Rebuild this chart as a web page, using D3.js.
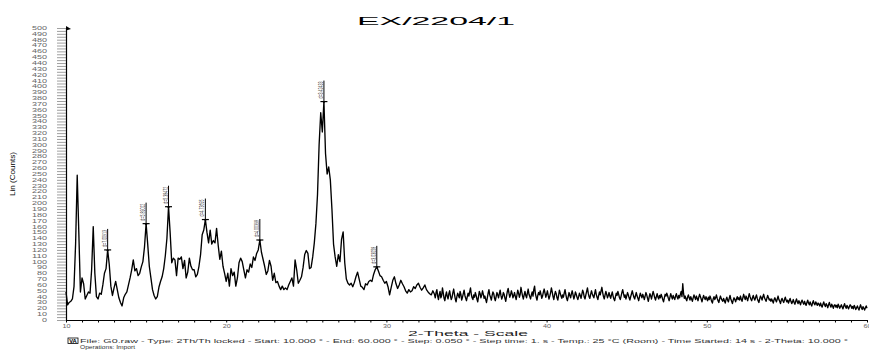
<!DOCTYPE html>
<html>
<head>
<meta charset="utf-8">
<script src="https://cdn.jsdelivr.net/npm/d3@7"></script>
<style>
  html, body { margin: 0; padding: 0; background: #fff; }
  svg { display: block; font-family: "Liberation Sans", Arial, sans-serif; }
</style>
</head>
<body>
<svg id="chart" width="869" height="352"></svg>
<script>
// chart texts
const chartTitle = "EX/2204/1";
const xTitle = "2-Theta - Scale";
const yTitle = "Lin (Counts)";
const footerLines = [
  "File: G0.raw - Type: 2Th/Th locked - Start: 10.000 ° - End: 60.000 ° - Step: 0.050 ° - Step time: 1. s - Temp.: 25 °C (Room) - Time Started: 14 s - 2-Theta: 10.000 °",
  "Operations: Import"
];

// scan, part 1: counts, every 0.1 degree from 10.0 to 32.9
const thetaStart = 10;
const thetaStep = 0.1;
const counts = [
  48, 26, 30, 32, 36, 57, 131, 248, 150, 48,      // 10
  72, 62, 36, 42, 48, 46, 86, 160, 80, 40,        // 11
  36, 46, 44, 60, 80, 88, 120, 95, 58, 42,        // 12
  55, 66, 52, 38, 30, 24, 38, 44, 48, 60,         // 13
  72, 86, 103, 84, 88, 76, 80, 91, 100, 125,      // 14
  165, 130, 92, 72, 52, 42, 36, 40, 56, 66,       // 15
  74, 88, 110, 140, 194, 150, 98, 106, 103, 76,   // 16
  106, 104, 108, 88, 102, 72, 82, 106, 92, 86,    // 17
  86, 74, 78, 92, 112, 146, 154, 172, 150, 132,   // 18
  154, 130, 136, 132, 157, 128, 104, 118, 92, 80, // 19
  66, 80, 58, 88, 76, 82, 58, 72, 98, 106,        // 20
  100, 86, 72, 86, 82, 96, 90, 108, 102, 114,     // 21
  120, 137, 116, 104, 92, 78, 84, 102, 92, 68,    // 22
  80, 64, 66, 58, 52, 58, 52, 55, 52, 60,         // 23
  66, 72, 58, 103, 86, 63, 68, 74, 90, 112,       // 24
  119, 114, 88, 90, 108, 132, 165, 215, 300, 355, // 25
  322, 374, 285, 250, 262, 240, 190, 130, 108, 92,// 26
  112, 100, 138, 151, 98, 70, 63, 60, 63, 57,     // 27
  64, 74, 82, 70, 58, 56, 52, 62, 60, 66,         // 28
  68, 66, 78, 86, 91, 84, 76, 74, 68, 63,         // 29
  66, 57, 43, 56, 68, 74, 62, 54, 60, 68,         // 30
  62, 57, 50, 46, 52, 48, 50, 57, 54, 60,         // 31
  63, 56, 51, 55, 60, 52, 48, 45, 43, 50          // 32
];

// scan, part 2: the noisy tail, every 0.05 degree from 33.00 to 60.00
const tailStart = 33;
const tailStep = 0.05;
const tailCounts = [
  44, 38, 47, 52, 41, 35, 44, 49, 38, 42, 55, 46, 37, 33, 42, 48, 40, 36, 45, 50, // 33
  41, 35, 39, 47, 53, 44, 36, 31, 40, 46, 42, 38, 49, 44, 34, 39, 45, 51, 42, 37, // 34
  33, 40, 46, 41, 48, 55, 44, 38, 35, 43, 39, 47, 42, 36, 31, 40, 49, 45, 38, 43, // 35
  50, 44, 37, 41, 35, 30, 38, 46, 52, 43, 39, 34, 42, 48, 45, 37, 33, 40, 47, 43, // 36
  38, 45, 51, 42, 36, 40, 47, 44, 37, 32, 41, 49, 54, 46, 39, 43, 50, 45, 38, 42, // 37
  47, 40, 35, 43, 51, 46, 39, 44, 56, 48, 41, 36, 43, 49, 42, 38, 46, 53, 44, 40, // 38
  36, 43, 48, 41, 52, 58, 45, 39, 34, 42, 47, 43, 50, 44, 37, 41, 48, 53, 46, 39, // 39
  44, 50, 42, 36, 41, 47, 55, 48, 40, 35, 43, 49, 45, 38, 34, 42, 51, 46, 41, 37, // 40
  43, 39, 46, 52, 44, 37, 33, 40, 47, 42, 38, 45, 50, 43, 36, 41, 48, 44, 39, 35, // 41
  40, 46, 42, 37, 44, 51, 47, 39, 36, 43, 49, 55, 46, 40, 37, 44, 50, 45, 41, 38, // 42
  45, 52, 44, 39, 35, 42, 48, 43, 50, 56, 47, 40, 36, 43, 49, 44, 38, 42, 47, 41, // 43
  37, 43, 48, 41, 36, 33, 40, 46, 42, 49, 44, 38, 35, 41, 47, 52, 45, 39, 43, 36, // 44
  41, 47, 43, 38, 34, 40, 45, 50, 44, 39, 36, 42, 47, 41, 37, 33, 40, 46, 42, 38, // 45
  44, 40, 35, 41, 47, 43, 37, 32, 39, 45, 41, 36, 43, 49, 44, 38, 34, 40, 45, 39, // 46
  36, 42, 38, 44, 40, 35, 31, 38, 44, 41, 46, 42, 37, 33, 39, 45, 40, 36, 42, 38, // 47
  35, 41, 45, 39, 36, 42, 38, 44, 49, 40, 62, 45, 37, 41, 36, 33, 39, 43, 38, 34, // 48
  40, 36, 32, 38, 43, 39, 35, 41, 37, 33, 39, 44, 40, 36, 31, 37, 42, 38, 35, 40, // 49
  36, 33, 39, 35, 41, 37, 32, 29, 36, 40, 35, 38, 43, 37, 33, 30, 36, 41, 37, 34, // 50
  32, 37, 33, 29, 35, 39, 34, 31, 37, 42, 36, 32, 28, 34, 38, 35, 31, 36, 40, 35, // 51
  38, 34, 41, 36, 32, 38, 44, 39, 35, 41, 37, 33, 39, 45, 40, 36, 33, 38, 42, 37, // 52
  34, 39, 43, 37, 33, 30, 36, 41, 38, 34, 40, 44, 38, 35, 32, 37, 42, 38, 34, 36, // 53
  32, 36, 33, 29, 35, 38, 34, 31, 36, 41, 35, 32, 28, 34, 37, 33, 30, 35, 39, 34, // 54
  31, 34, 29, 33, 37, 32, 28, 31, 35, 30, 27, 32, 36, 31, 28, 33, 30, 26, 31, 34, // 55
  30, 27, 32, 28, 25, 30, 34, 29, 26, 31, 27, 24, 29, 33, 28, 26, 31, 28, 25, 29, // 56
  27, 24, 29, 25, 22, 27, 31, 26, 23, 28, 25, 21, 26, 30, 25, 22, 27, 24, 20, 25, // 57
  26, 22, 25, 21, 27, 24, 20, 23, 26, 22, 19, 24, 28, 23, 20, 25, 22, 19, 23, 26, // 58
  24, 20, 23, 19, 25, 22, 18, 21, 24, 20, 17, 22, 26, 21, 18, 23, 20, 17, 21, 24, // 59
  20                                                                              // 60
];

// peak markers (d-spacing labels)
const peakTheta = [12.6, 15.0, 16.4, 18.7, 22.1, 26.1, 29.4];
const peakCounts = [120, 165, 194, 172, 137, 374, 91];
const peakLabels = ["d=7.00913", "d=5.89012", "d=5.38472", "d=4.73695", "d=4.00398", "d=3.42433", "d=3.03058"];

// axis ticks
const xTicks = d3.range(10, 61, 1);
const xTickLabels = [10, 20, 30, 40, 50, 60];
const yTicks = d3.range(0, 501, 5);

const x = d3.scaleLinear().domain([10, 60]).range([66, 867]);
const y = d3.scaleLinear().domain([0, 500]).range([320, 28]);

const svg = d3.select("#chart");

const points = counts.map((c, i) => ({ t: thetaStart + i * thetaStep, c }))
  .concat(tailCounts.map((c, i) => ({ t: tailStart + i * tailStep, c })));

// title
svg.append("text")
  .attr("x", 357).attr("y", 25)
  .attr("font-size", 11)
  .attr("textLength", 158).attr("lengthAdjust", "spacingAndGlyphs")
  .text(chartTitle);

// y axis
const yAxis = d3.axisLeft(y)
  .tickValues(yTicks)
  .tickSize(9).tickSizeOuter(0).tickPadding(10)
  .tickFormat(d => d % 10 === 0 ? d : "");

const gy = svg.append("g").attr("transform", "translate(66,0)").call(yAxis)
  .attr("font-family", null).attr("font-size", null);
gy.select(".domain").attr("stroke", "#000").attr("stroke-width", 1.2);
gy.selectAll(".tick line").attr("stroke", "#777").attr("stroke-width", 0.7);
gy.selectAll(".tick text")
  .attr("font-size", 4.5).attr("fill", "#666")
  .filter(d => d % 10 === 0)
  .attr("textLength", d => String(d).length * 5)
  .attr("lengthAdjust", "spacingAndGlyphs");

// small arrow at the top of the y axis
svg.append("path")
  .attr("d", `M66,${y(500) - 2} L71,${y(500) + 1} L66,${y(500) + 2.5} Z`)
  .attr("fill", "#000");

// x axis
const xAxis = d3.axisBottom(x)
  .tickValues(xTicks)
  .tickSize(2.5).tickSizeOuter(0).tickPadding(2)
  .tickFormat(d => xTickLabels.includes(d) ? d : "");

const gx = svg.append("g").attr("transform", "translate(0,320)").call(xAxis)
  .attr("font-family", null).attr("font-size", null);
gx.select(".domain").attr("stroke", "#000").attr("stroke-width", 1.2);
gx.selectAll(".tick line").attr("stroke", "#000").attr("stroke-width", 1);
gx.selectAll(".tick text")
  .attr("font-size", 4.5).attr("fill", "#666")
  .filter(d => xTickLabels.includes(d))
  .attr("textLength", d => String(d).length * 4)
  .attr("lengthAdjust", "spacingAndGlyphs");

// axis titles
svg.append("text")
  .attr("transform", "translate(15,174) rotate(-90)")
  .attr("text-anchor", "middle")
  .attr("font-size", 7)
  .attr("textLength", 44).attr("lengthAdjust", "spacingAndGlyphs")
  .text(yTitle);

svg.append("text")
  .attr("x", 408).attr("y", 336)
  .attr("font-size", 7).attr("fill", "#222")
  .attr("textLength", 120).attr("lengthAdjust", "spacingAndGlyphs")
  .text(xTitle);

// the scan line
const line = d3.line()
  .x(d => x(d.t))
  .y(d => y(d.c));

svg.append("path")
  .datum(points)
  .attr("d", line)
  .attr("fill", "none")
  .attr("stroke", "#000")
  .attr("stroke-width", 1.35)
  .attr("stroke-linejoin", "round");

// peak markers
const peaks = peakTheta.map((t, i) => ({ t, c: peakCounts[i], label: peakLabels[i] }));
const pg = svg.selectAll("g.peak").data(peaks).join("g").attr("class", "peak");

pg.append("line")
  .attr("x1", d => x(d.t)).attr("x2", d => x(d.t))
  .attr("y1", d => y(d.c) - 21).attr("y2", d => y(d.c))
  .attr("stroke", "#000").attr("stroke-width", 1);

pg.append("line")
  .attr("x1", d => x(d.t) - 3.5).attr("x2", d => x(d.t) + 3.5)
  .attr("y1", d => y(d.c)).attr("y2", d => y(d.c))
  .attr("stroke", "#000").attr("stroke-width", 1.2);

pg.append("path")
  .attr("d", d => `M${x(d.t) - 1.5},${y(d.c)} L${x(d.t) + 1.5},${y(d.c)} L${x(d.t)},${y(d.c) + 2} Z`)
  .attr("fill", "#000");

pg.append("text")
  .attr("transform", d => `translate(${x(d.t) - 1},${y(d.c) - 3}) rotate(-90)`)
  .attr("font-size", 7.5).attr("fill", "#444")
  .attr("textLength", 17).attr("lengthAdjust", "spacingAndGlyphs")
  .text(d => d.label);

// footer
svg.append("rect")
  .attr("x", 68).attr("y", 338).attr("width", 10).attr("height", 5.5)
  .attr("fill", "#fff").attr("stroke", "#000").attr("stroke-width", 0.8);
svg.append("text")
  .attr("x", 69.2).attr("y", 342.8)
  .attr("font-size", 5).attr("font-weight", "bold")
  .attr("textLength", 7.6).attr("lengthAdjust", "spacingAndGlyphs")
  .text("VA");

svg.append("text")
  .attr("x", 80).attr("y", 343.3)
  .attr("font-size", 4.8).attr("fill", "#333")
  .attr("textLength", 768).attr("lengthAdjust", "spacingAndGlyphs")
  .text(footerLines[0]);

svg.append("text")
  .attr("x", 80).attr("y", 348.8)
  .attr("font-size", 4.8).attr("fill", "#333")
  .attr("textLength", 55).attr("lengthAdjust", "spacingAndGlyphs")
  .text(footerLines[1]);
</script>
</body>
</html>
